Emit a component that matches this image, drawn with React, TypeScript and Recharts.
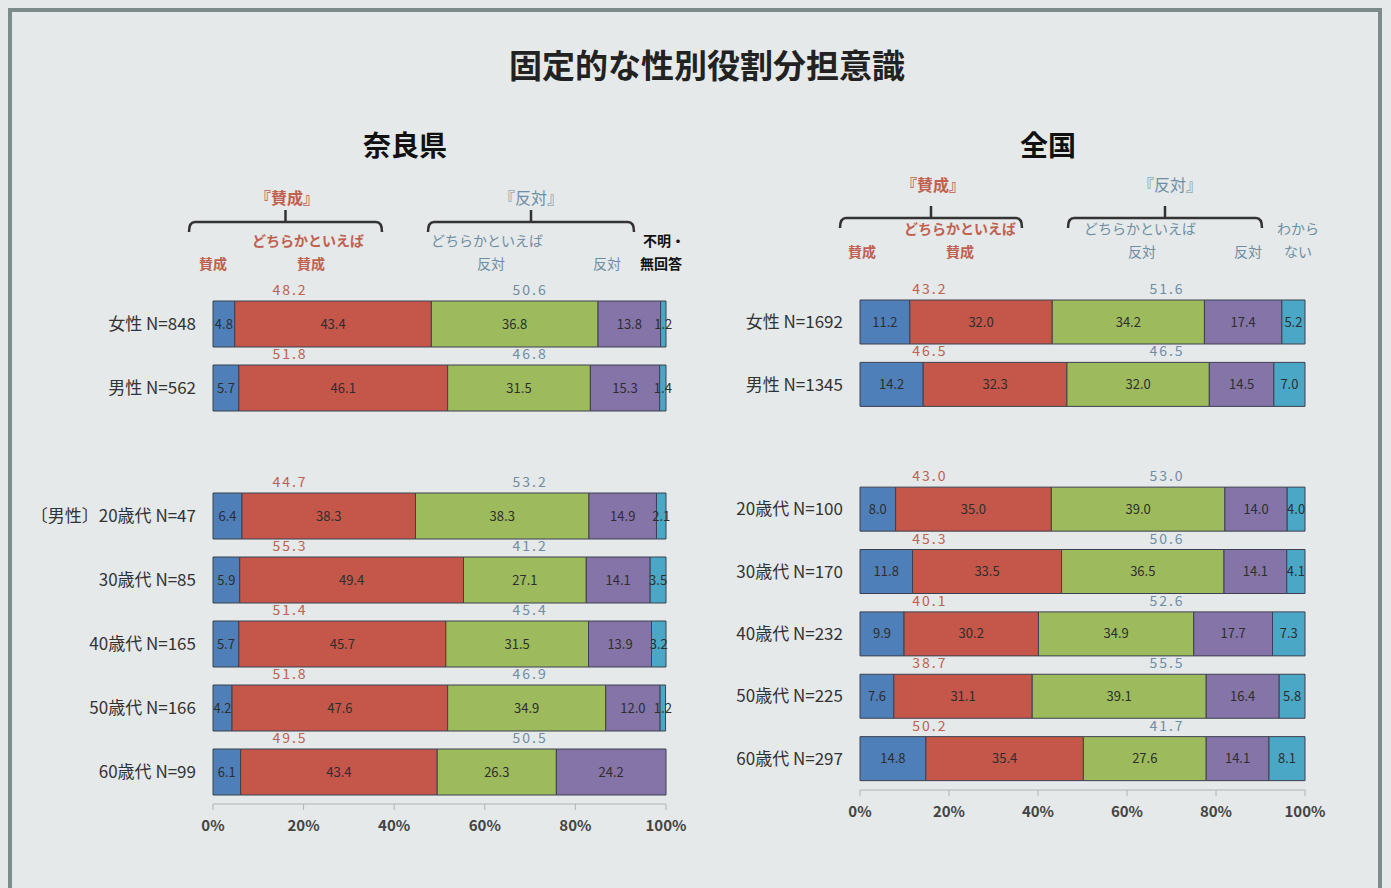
import { BarChart, Bar, XAxis, YAxis, LabelList } from 'recharts';

// 奈良県
const naraCats = ['女性 N=848', '男性 N=562', '', '〔男性〕20歳代 N=47', '30歳代 N=85', '40歳代 N=165', '50歳代 N=166', '60歳代 N=99'];
const naraAgree = [4.8, 5.7, null, 6.4, 5.9, 5.7, 4.2, 6.1];
const naraRatherAgree = [43.4, 46.1, null, 38.3, 49.4, 45.7, 47.6, 43.4];
const naraRatherOppose = [36.8, 31.5, null, 38.3, 27.1, 31.5, 34.9, 26.3];
const naraOppose = [13.8, 15.3, null, 14.9, 14.1, 13.9, 12.0, 24.2];
const naraUnknown = [1.2, 1.4, null, 2.1, 3.5, 3.2, 1.2, 0.0];

// 全国
const zenCats = ['女性 N=1692', '男性 N=1345', '', '20歳代 N=100', '30歳代 N=170', '40歳代 N=232', '50歳代 N=225', '60歳代 N=297'];
const zenAgree = [11.2, 14.2, null, 8.0, 11.8, 9.9, 7.6, 14.8];
const zenRatherAgree = [32.0, 32.3, null, 35.0, 33.5, 30.2, 31.1, 35.4];
const zenRatherOppose = [34.2, 32.0, null, 39.0, 36.5, 34.9, 39.1, 27.6];
const zenOppose = [17.4, 14.5, null, 14.0, 14.1, 17.7, 16.4, 14.1];
const zenUnknown = [5.2, 7.0, null, 4.0, 4.1, 7.3, 5.8, 8.1];

const pctTicks = [0, 20, 40, 60, 80, 100];

const BLUE = '#4f7fb8';
const RED = '#c4574a';
const GREEN = '#9dbb5c';
const PURPLE = '#8574a8';
const CYAN = '#4aa8c6';
const EDGE = '#3d4050';
const AGREE_TXT = '#c0604f';
const OPPOSE_TXT = '#6f8ea3';
const FONT = '"Noto Sans CJK JP", "Noto Sans", sans-serif';

function buildRows(cats: string[], a: any[], ra: any[], ro: any[], o: any[], u: any[]) {
  return cats.map((name, i) => ({
    name: name || ' ',
    agree: a[i],
    ratherAgree: ra[i],
    ratherOppose: ro[i],
    oppose: o[i],
    unknown: u[i],
    agreeSum: a[i] == null ? null : a[i] + ra[i],
    opposeSum: ro[i] == null ? null : ro[i] + o[i],
  }));
}

const fmt = (v: any) => (v == null ? '' : Number(v).toFixed(1));

function sumLabel(plotW: number, at: number, color: string) {
  return (props: any) => {
    const { x, y, value } = props;
    if (value == null) return null;
    return (
      <text x={x + plotW * at} y={y - 6} fill={color} fontSize={14} textAnchor="middle" letterSpacing={2}>
        {Number(value).toFixed(1)}
      </text>
    );
  };
}

function StackChart({ rows, width, height, yWidth, margin, plotW, agreeAt, opposeAt }: any) {
  const segs = [
    { key: 'agree', color: BLUE },
    { key: 'ratherAgree', color: RED },
    { key: 'ratherOppose', color: GREEN },
    { key: 'oppose', color: PURPLE },
    { key: 'unknown', color: CYAN },
  ];
  return (
    <BarChart width={width} height={height} data={rows} layout="vertical" margin={margin} barCategoryGap={9}>
      <XAxis
        type="number"
        domain={[0, 100]}
        ticks={pctTicks}
        tickFormatter={(v: number) => `${v}%`}
        height={30}
        stroke="#b0b4b4"
        tick={{ fontSize: 15, fill: '#444', fontWeight: 600 }}
        tickMargin={10}
      />
      <YAxis
        type="category"
        dataKey="name"
        width={yWidth}
        axisLine={false}
        tickLine={false}
        tickSize={0}
        tickMargin={17}
        tick={{ fontSize: 17, fill: '#333' }}
      />
      {segs.map((s, i) => (
        <Bar
          key={s.key}
          dataKey={s.key}
          stackId="a"
          fill={s.color}
          stroke={EDGE}
          strokeWidth={1}
          isAnimationActive={false}
        >
          <LabelList dataKey={s.key} position="center" formatter={fmt} fill="#2e2e2e" fontSize={13} />
          {i === 0 && <LabelList dataKey="agreeSum" content={sumLabel(plotW, agreeAt, AGREE_TXT)} />}
          {i === 0 && <LabelList dataKey="opposeSum" content={sumLabel(plotW, opposeAt, OPPOSE_TXT)} />}
        </Bar>
      ))}
    </BarChart>
  );
}

const naraRows = buildRows(naraCats, naraAgree, naraRatherAgree, naraRatherOppose, naraOppose, naraUnknown);
const zenRows = buildRows(zenCats, zenAgree, zenRatherAgree, zenRatherOppose, zenOppose, zenUnknown);

function Bracket({ x1, x2, y }: { x1: number; x2: number; y: number }) {
  const c = (x1 + x2) / 2;
  return (
    <path
      d={`M${x1},${y + 10} Q${x1},${y} ${x1 + 6},${y} L${x2 - 6},${y} Q${x2},${y} ${x2},${y + 10} M${c},${y} L${c},${y - 12}`}
      stroke="#333"
      strokeWidth={2.5}
      fill="none"
    />
  );
}

export default function App() {
  const t = { fontSize: 14, textAnchor: 'middle' as const };
  return (
    <div
      style={{
        position: 'absolute',
        left: 0,
        top: 0,
        width: 1391,
        height: 888,
        overflow: 'hidden',
        background: '#e5e9e9',
        fontFamily: FONT,
      }}
    >
      <div
        style={{
          position: 'absolute',
          left: 8,
          top: 8,
          width: 1366,
          height: 900,
          border: '4px solid #7e8b8b',
          borderBottom: 'none',
        }}
      />
      <svg width={1391} height={888} style={{ position: 'absolute', left: 0, top: 0 }}>
        <text x={707} y={78} fontSize={33} fontWeight={700} fill="#222" textAnchor="middle">
          固定的な性別役割分担意識
        </text>
        <text x={405} y={156} fontSize={28} fontWeight={700} fill="#111" textAnchor="middle">
          奈良県
        </text>
        <text x={1048} y={156} fontSize={28} fontWeight={700} fill="#111" textAnchor="middle">
          全国
        </text>

        {/* 奈良県 header */}
        <text x={287} y={204} {...t} fontSize={16} fontWeight={700} fill={AGREE_TXT}>『賛成』</text>
        <text x={531} y={204} {...t} fontSize={16} fill={OPPOSE_TXT}>『反対』</text>
        <Bracket x1={189} x2={382} y={222} />
        <Bracket x1={428} x2={634} y={222} />
        <text x={308} y={246} {...t} fill={AGREE_TXT} fontWeight={700}>どちらかといえば</text>
        <text x={213} y={269} {...t} fill={AGREE_TXT} fontWeight={700}>賛成</text>
        <text x={311} y={269} {...t} fill={AGREE_TXT} fontWeight={700}>賛成</text>
        <text x={487} y={246} {...t} fill={OPPOSE_TXT}>どちらかといえば</text>
        <text x={491} y={269} {...t} fill={OPPOSE_TXT}>反対</text>
        <text x={607} y={269} {...t} fill={OPPOSE_TXT}>反対</text>
        <text x={664} y={246} {...t} fill="#111" fontWeight={700}>不明・</text>
        <text x={661} y={269} {...t} fill="#111" fontWeight={700}>無回答</text>

        {/* 全国 header */}
        <text x={933} y={191} {...t} fontSize={16} fontWeight={700} fill={AGREE_TXT}>『賛成』</text>
        <text x={1170} y={191} {...t} fontSize={16} fill={OPPOSE_TXT}>『反対』</text>
        <Bracket x1={840} x2={1022} y={218} />
        <Bracket x1={1068} x2={1262} y={218} />
        <text x={960} y={234} {...t} fill={AGREE_TXT} fontWeight={700}>どちらかといえば</text>
        <text x={862} y={257} {...t} fill={AGREE_TXT} fontWeight={700}>賛成</text>
        <text x={960} y={257} {...t} fill={AGREE_TXT} fontWeight={700}>賛成</text>
        <text x={1140} y={234} {...t} fill={OPPOSE_TXT}>どちらかといえば</text>
        <text x={1142} y={257} {...t} fill={OPPOSE_TXT}>反対</text>
        <text x={1248} y={257} {...t} fill={OPPOSE_TXT}>反対</text>
        <text x={1298} y={234} {...t} fill={OPPOSE_TXT}>わから</text>
        <text x={1298} y={257} {...t} fill={OPPOSE_TXT}>ない</text>
      </svg>

      <div style={{ position: 'absolute', left: 0, top: 270 }}>
        <StackChart
          rows={naraRows}
          width={700}
          height={574}
          yWidth={213}
          margin={{ top: 22, right: 34, bottom: 10, left: 0 }}
          plotW={453}
          agreeAt={0.17}
          opposeAt={0.7}
        />
      </div>
      <div style={{ position: 'absolute', left: 700, top: 270 }}>
        <StackChart
          rows={zenRows}
          width={640}
          height={560}
          yWidth={160}
          margin={{ top: 21, right: 35, bottom: 10, left: 0 }}
          plotW={445}
          agreeAt={0.157}
          opposeAt={0.69}
        />
      </div>
    </div>
  );
}
